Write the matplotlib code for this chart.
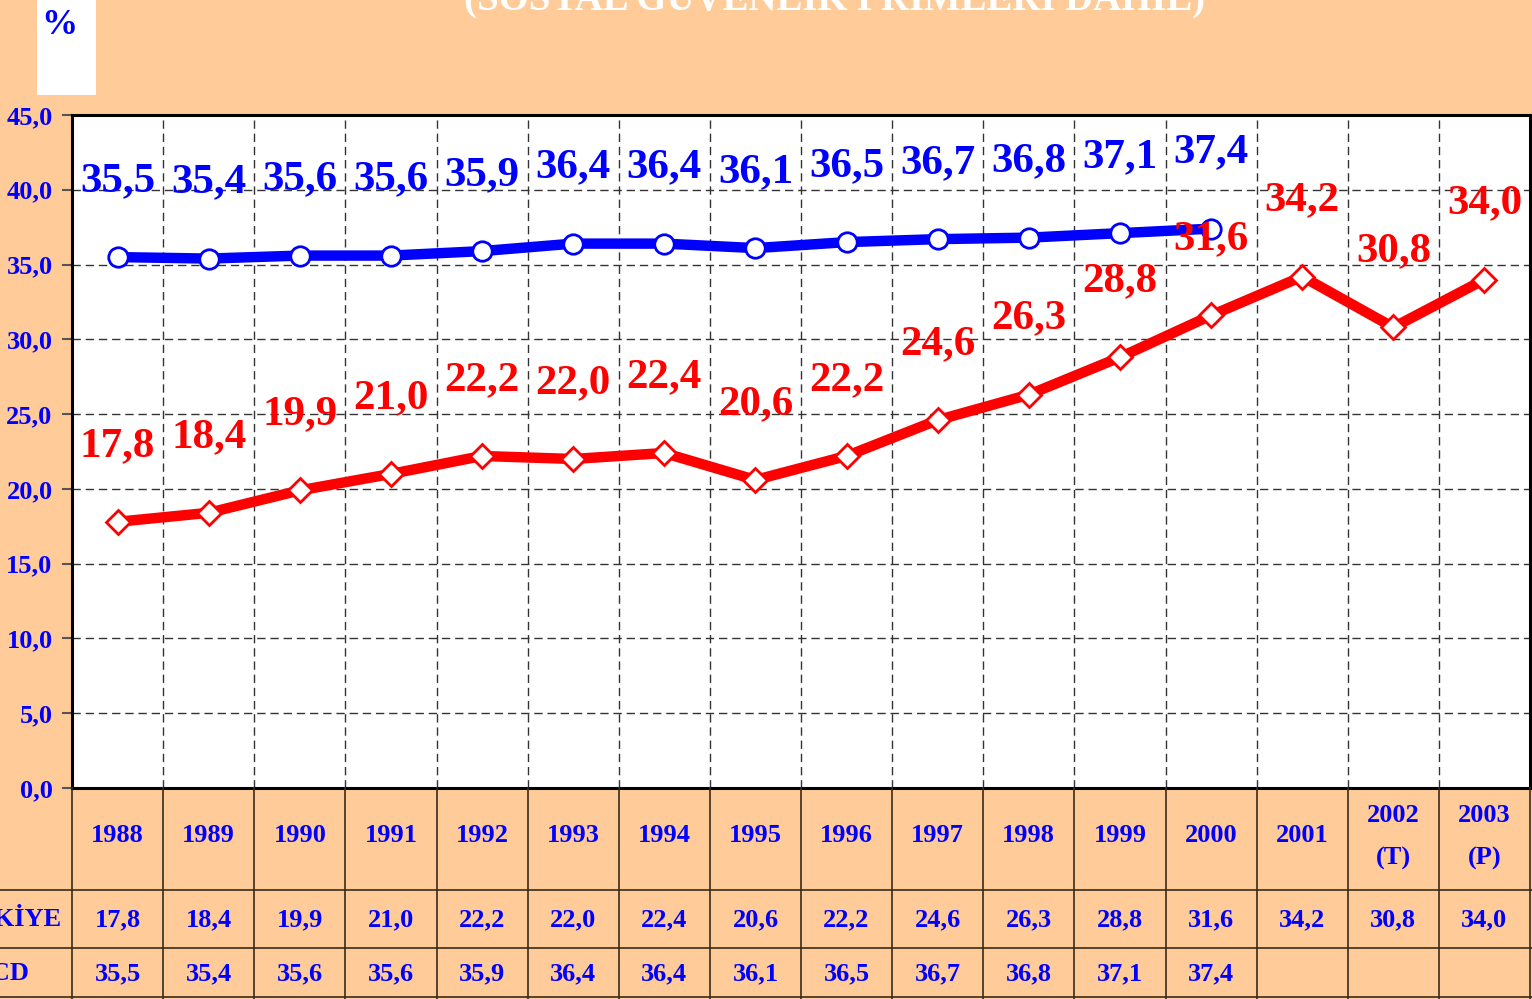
import numpy as np
import matplotlib
matplotlib.use("Agg")
import matplotlib.pyplot as plt
from matplotlib.lines import Line2D
from matplotlib.patches import Rectangle
from matplotlib.transforms import blended_transform_factory

# data
years = ["1988", "1989", "1990", "1991", "1992", "1993", "1994", "1995",
         "1996", "1997", "1998", "1999", "2000", "2001", "2002\n(T)", "2003\n(P)"]
turkiye = [17.8, 18.4, 19.9, 21.0, 22.2, 22.0, 22.4, 20.6,
           22.2, 24.6, 26.3, 28.8, 31.6, 34.2, 30.8, 34.0]
oecd = [35.5, 35.4, 35.6, 35.6, 35.9, 36.4, 36.4, 36.1,
        36.5, 36.7, 36.8, 37.1, 37.4]
row_labels = ["TÜRKİYE", "OECD"]
y_ticks = [0, 5, 10, 15, 20, 25, 30, 35, 40, 45]
title = "(SOSYAL GÜVENLİK PRİMLERİ DAHİL)"

BG = "#FFCC99"
BLUE = "#0000FF"
RED = "#FF0000"
FONT = "Liberation Serif"
W, H = 1532, 999
TSIZE = 19


def fmt(v):
    return f"{v:.1f}".replace(".", ",")


def fy(py):
    # pixel row (from top) -> figure fraction
    return 1 - py / H


fig = plt.figure(figsize=(W / 100, H / 100), dpi=100, facecolor=BG)
ax = fig.add_axes([72 / W, fy(788), (1530 - 72) / W, (788 - 115) / H])
ax.set_facecolor("white")

x_tr = np.arange(len(turkiye))
x_oe = np.arange(len(oecd))

ax.plot(x_oe, oecd, color=BLUE, lw=7.5, marker="o", ms=14,
        mfc="white", mec=BLUE, mew=2, zorder=4, solid_capstyle="butt")
ax.plot(x_tr, turkiye, color=RED, lw=7.5, marker="D", ms=12.5,
        mfc="white", mec=RED, mew=2, zorder=4, solid_capstyle="butt")

for x, v in zip(x_oe, oecd):
    ax.annotate(fmt(v), (x, v), xytext=(0, 76), textcoords="offset pixels",
                ha="center", va="center", color=BLUE, fontsize=31,
                fontweight="bold", family=FONT, zorder=6)
for x, v in zip(x_tr, turkiye):
    ax.annotate(fmt(v), (x, v), xytext=(0, 76), textcoords="offset pixels",
                ha="center", va="center", color=RED, fontsize=31,
                fontweight="bold", family=FONT, zorder=6)

ax.set_xlim(-0.5, len(years) - 0.5)
ax.set_ylim(0, 45)
ax.set_yticks(y_ticks)
ax.set_yticklabels([fmt(t) for t in y_ticks], color=BLUE, fontsize=TSIZE,
                   fontweight="bold", family=FONT)
ax.set_xticks(np.arange(0.5, len(years) - 1, 1))
ax.set_xticklabels([])
ax.tick_params(axis="x", length=0)
ax.tick_params(axis="y", length=7, width=1.5, color="#555555", pad=7)
ax.grid(True, color="#333333", lw=1.0, ls=(0, (6, 3.5)))
ax.set_axisbelow(True)
for sp in ax.spines.values():
    sp.set_color("black")
    sp.set_linewidth(2.2)

# table below the axes
tr = blended_transform_factory(ax.transData, fig.transFigure)
for i, yr in enumerate(years):
    if "\n" in yr:
        a, b = yr.split("\n")
        fig.text(i, fy(815), a, transform=tr, ha="center", va="center",
                 color=BLUE, fontsize=TSIZE, fontweight="bold", family=FONT)
        fig.text(i, fy(858), b, transform=tr, ha="center", va="center",
                 color=BLUE, fontsize=TSIZE, fontweight="bold", family=FONT)
    else:
        fig.text(i, fy(836), yr, transform=tr, ha="center", va="center",
                 color=BLUE, fontsize=TSIZE, fontweight="bold", family=FONT)
for i, v in enumerate(turkiye):
    fig.text(i, fy(920), fmt(v), transform=tr, ha="center", va="center",
             color=BLUE, fontsize=TSIZE, fontweight="bold", family=FONT)
for i, v in enumerate(oecd):
    fig.text(i, fy(974), fmt(v), transform=tr, ha="center", va="center",
             color=BLUE, fontsize=TSIZE, fontweight="bold", family=FONT)

fig.text(62 / W, fy(920), row_labels[0], ha="right", va="center",
         color=BLUE, fontsize=TSIZE, fontweight="bold", family=FONT)
fig.text(30 / W, fy(974), row_labels[1], ha="right", va="center",
         color=BLUE, fontsize=TSIZE, fontweight="bold", family=FONT)

for k in range(len(years) + 1):
    xb = k - 0.5
    fig.add_artist(Line2D([xb, xb], [fy(788), fy(999)], transform=tr,
                          color="#3a2a1a", lw=1.2))
for py in (890, 948, 997):
    fig.add_artist(Line2D([0, 1], [fy(py), fy(py)], color="#3a2a1a", lw=1.2))

# "%" box and cut-off title
fig.add_artist(Rectangle((37 / W, fy(95)), 59 / W, 95 / H,
                         facecolor="white", edgecolor="none"))
fig.text(59 / W, fy(25), "%", ha="center", va="center", color=BLUE,
         fontsize=26, fontweight="bold", family=FONT)
fig.text(835 / W, fy(9), title, ha="center", va="baseline", color="white",
         fontsize=28, fontweight="bold", family=FONT)

fig.savefig("out.png", dpi=100, facecolor=BG)
